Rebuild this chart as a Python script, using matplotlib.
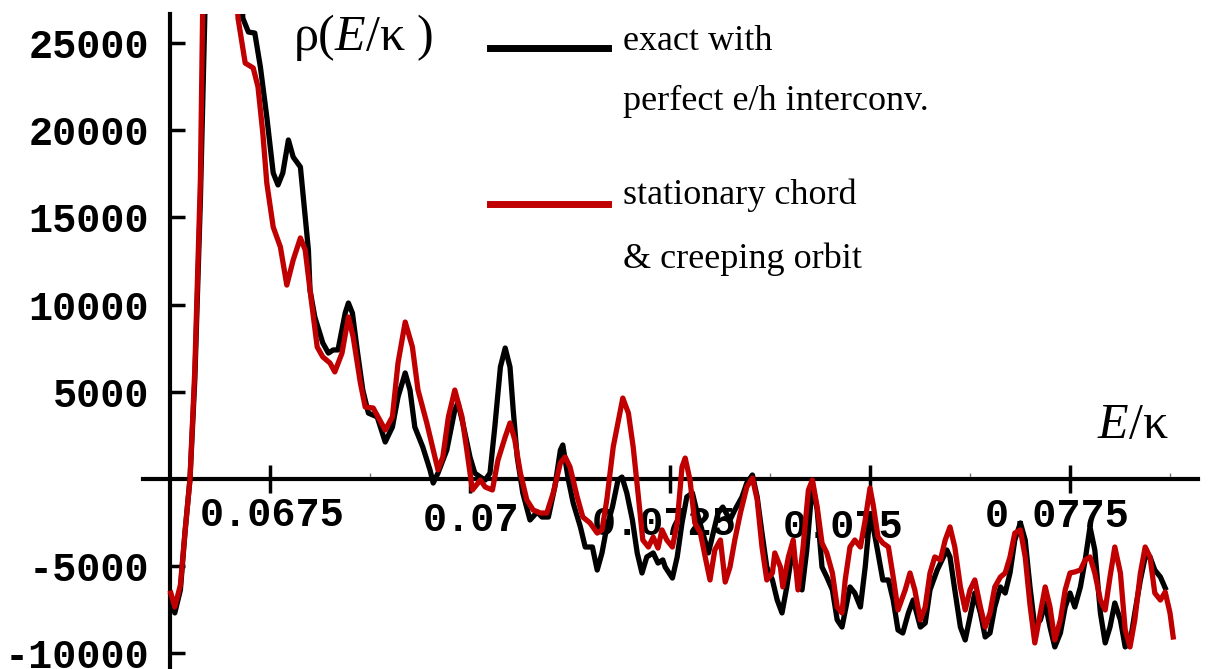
import numpy as np
import matplotlib
matplotlib.use('Agg')
import matplotlib.pyplot as plt
from matplotlib.lines import Line2D

plt.rcParams['axes.unicode_minus'] = False
plt.rcParams['mathtext.fontset'] = 'custom'
plt.rcParams['mathtext.rm'] = 'Liberation Serif'
plt.rcParams['mathtext.it'] = 'Liberation Serif:italic'

# exact result, perfect e/h interconversion
exact_E = [0.06626, 0.06631, 0.06638, 0.06644, 0.06650, 0.06656, 0.06663, 0.06669, 0.06678, 0.06694,
           0.06709, 0.06716, 0.06723, 0.06731, 0.06738, 0.06746, 0.06754, 0.06760, 0.06766, 0.06773,
           0.06779, 0.06788, 0.06794, 0.06798, 0.06800, 0.06806, 0.06816, 0.06823, 0.06829, 0.06835,
           0.06844, 0.06848, 0.06853, 0.06859, 0.06866, 0.06873, 0.06884, 0.06894, 0.06903, 0.06910,
           0.06919, 0.06925, 0.06931, 0.06941, 0.06950, 0.06954, 0.06960, 0.06971, 0.06981, 0.06985,
           0.06991, 0.07000, 0.07006, 0.07013, 0.07019, 0.07025, 0.07031, 0.07038, 0.07044, 0.07050,
           0.07054, 0.07059, 0.07066, 0.07075, 0.07084, 0.07090, 0.07098, 0.07106, 0.07113, 0.07116,
           0.07123, 0.07129, 0.07138, 0.07144, 0.07153, 0.07159, 0.07165, 0.07171, 0.07178, 0.07185,
           0.07190, 0.07196, 0.07203, 0.07209, 0.07215, 0.07221, 0.07229, 0.07235, 0.07241, 0.07244,
           0.07253, 0.07259, 0.07265, 0.07271, 0.07278, 0.07284, 0.07291, 0.07298, 0.07304, 0.07310,
           0.07316, 0.07325, 0.07331, 0.07340, 0.07346, 0.07353, 0.07359, 0.07365, 0.07371, 0.07378,
           0.07384, 0.07390, 0.07396, 0.07403, 0.07409, 0.07415, 0.07421, 0.07428, 0.07434, 0.07440,
           0.07446, 0.07453, 0.07459, 0.07465, 0.07475, 0.07481, 0.07488, 0.07494, 0.07500, 0.07504,
           0.07510, 0.07516, 0.07523, 0.07529, 0.07535, 0.07541, 0.07548, 0.07554, 0.07563, 0.07569,
           0.07575, 0.07584, 0.07590, 0.07596, 0.07600, 0.07606, 0.07613, 0.07619, 0.07625, 0.07631,
           0.07638, 0.07644, 0.07650, 0.07656, 0.07663, 0.07669, 0.07675, 0.07681, 0.07688, 0.07694,
           0.07700, 0.07706, 0.07713, 0.07719, 0.07725, 0.07731, 0.07738, 0.07744, 0.07750, 0.07756,
           0.07763, 0.07769, 0.07775, 0.07781, 0.07788, 0.07794, 0.07800, 0.07806, 0.07813, 0.07819,
           0.07825, 0.07831, 0.07838, 0.07844, 0.07850, 0.07856, 0.07863, 0.07869]
exact_rho = [-6650, -7680, -6360, -2920, 0, 5680, 16000, 27470, 41800, 45800,
             36070, 26430, 25630, 25570, 23620, 20760, 17550, 16860, 17550, 19440,
             18460, 17890, 15020, 13130, 10840, 9290, 7800, 7220, 7400, 7400,
             9520, 10090, 9520, 7400, 5100, 3780, 3560, 2120, 2980, 4700,
             6080, 5100, 2980, 1830, 520, -230, 340, 1660, 3960, 4360,
             3210, 1260, 340, 110, -60, 340, 2980, 6420, 7510, 6420,
             3960, 1260, -800, -2350, -1890, -2180, -2180, -460, 1660, 1950,
             -60, -1380, -2750, -3900, -3900, -5220, -4240, -2750, -1610, -60,
             110, -800, -2350, -4240, -5390, -4470, -4240, -4820, -4640, -5050,
             -5680, -4470, -2520, -1030, -800, -1950, -3100, -4240, -3100, -1950,
             -1610, -2350, -1780, -1030, -230, 230, -1030, -3100, -5050, -5790,
             -6940, -7680, -6190, -4070, -5390, -6360, -4070, -230, -1780, -5050,
             -5620, -6360, -8080, -8490, -6190, -6540, -7340, -5050, -2060, -2750,
             -4240, -5790, -5790, -6940, -8660, -8830, -7680, -6940, -8490, -8260,
             -6360, -5220, -4640, -4070, -4470, -6360, -8490, -9230, -7910, -6540,
             -7680, -9060, -8830, -7340, -6190, -6540, -5390, -3500, -2520, -3500,
             -6190, -8490, -8080, -7110, -8490, -9630, -8830, -7340, -6540, -7340,
             -6190, -4640, -2750, -4070, -7680, -9400, -8490, -7110, -8080, -9630,
             -9400, -7680, -5790, -4470, -4470, -5220, -5620, -6250]

# stationary chord & creeping orbit approximation
semi_E = [0.06626, 0.06631, 0.06638, 0.06644, 0.06650, 0.06656, 0.06663, 0.06666, 0.06675, 0.06694,
          0.06704, 0.06710, 0.06719, 0.06729, 0.06735, 0.06741, 0.06746, 0.06754, 0.06763, 0.06771,
          0.06779, 0.06788, 0.06794, 0.06800, 0.06809, 0.06816, 0.06825, 0.06831, 0.06840, 0.06848,
          0.06854, 0.06863, 0.06869, 0.06879, 0.06894, 0.06903, 0.06910, 0.06919, 0.06928, 0.06935,
          0.06946, 0.06954, 0.06960, 0.06966, 0.06973, 0.06981, 0.06990, 0.06996, 0.07003, 0.07006,
          0.07013, 0.07019, 0.07028, 0.07035, 0.07044, 0.07050, 0.07056, 0.07063, 0.07071, 0.07079,
          0.07088, 0.07096, 0.07104, 0.07113, 0.07119, 0.07125, 0.07134, 0.07141, 0.07150, 0.07159,
          0.07165, 0.07171, 0.07179, 0.07188, 0.07191, 0.07198, 0.07204, 0.07210, 0.07216, 0.07223,
          0.07229, 0.07235, 0.07240, 0.07246, 0.07253, 0.07259, 0.07265, 0.07269, 0.07275, 0.07281,
          0.07288, 0.07294, 0.07300, 0.07306, 0.07313, 0.07319, 0.07325, 0.07331, 0.07338, 0.07346,
          0.07353, 0.07359, 0.07365, 0.07371, 0.07378, 0.07381, 0.07388, 0.07391, 0.07398, 0.07404,
          0.07410, 0.07416, 0.07423, 0.07428, 0.07434, 0.07440, 0.07446, 0.07453, 0.07459, 0.07465,
          0.07469, 0.07475, 0.07481, 0.07488, 0.07494, 0.07500, 0.07504, 0.07510, 0.07516, 0.07523,
          0.07529, 0.07535, 0.07544, 0.07550, 0.07556, 0.07563, 0.07569, 0.07575, 0.07581, 0.07588,
          0.07594, 0.07600, 0.07606, 0.07613, 0.07619, 0.07625, 0.07631, 0.07638, 0.07644, 0.07650,
          0.07656, 0.07663, 0.07669, 0.07675, 0.07681, 0.07688, 0.07694, 0.07700, 0.07706, 0.07713,
          0.07719, 0.07725, 0.07731, 0.07738, 0.07744, 0.07750, 0.07756, 0.07763, 0.07769, 0.07775,
          0.07781, 0.07788, 0.07794, 0.07800, 0.07806, 0.07813, 0.07819, 0.07825, 0.07831, 0.07838,
          0.07844, 0.07850, 0.07856, 0.07863, 0.07869, 0.07875, 0.07879]
semi_rho = [-6540, -7340, -6080, -2920, 0, 6250, 17150, 27470, 44670, 47530,
            33200, 26430, 23850, 23570, 22480, 19840, 16970, 14450, 13300, 11120,
            12560, 13820, 13130, 10840, 7570, 7000, 6650, 6140, 7220, 9290,
            8140, 5500, 4130, 4070, 2810, 3560, 6650, 9000, 7570, 5100,
            3210, 1660, 520, 1260, 3560, 5100, 3560, 1660, -630, -460,
            -60, -460, -630, 1090, 2410, 3210, 2240, 340, -1200, -1780,
            -1950, -1950, -800, 920, 1260, 690, -1030, -2180, -2520, -3100,
            -2920, -1200, 1830, 3960, 4640, 3780, 1830, -800, -3500, -3900,
            -3330, -3960, -2920, -3500, -3900, -2520, 690, 1200, -60, -2520,
            -3100, -4470, -5790, -4070, -3500, -5910, -5050, -3500, -1950, -460,
            60, -1200, -3900, -5790, -5390, -4240, -5050, -6190, -4470, -3500,
            -6360, -4070, -630, -60, -1610, -3670, -4240, -5390, -7340, -7680,
            -5790, -3900, -3500, -3900, -2350, -520, -1490, -3330, -3670, -3900,
            -5620, -7510, -6360, -5390, -6360, -8080, -7340, -5390, -4470, -4640,
            -3500, -2750, -3900, -6190, -7510, -6360, -5790, -7340, -8490, -7680,
            -6190, -5620, -5390, -4470, -3100, -2920, -4470, -7220, -9400, -7680,
            -6190, -7340, -9230, -8080, -6360, -5390, -5330, -5220, -4640, -4470,
            -5390, -6940, -7510, -5620, -3900, -5390, -8660, -9630, -8080, -5390,
            -3900, -4470, -6540, -6940, -6480, -7680, -9060]

x_ticks = [0.0675, 0.07, 0.0725, 0.075, 0.0775]
x_tick_labels = ['0.0675', '0.07', '0.0725', '0.075', '0.0775']
x_minor = [0.06875, 0.07125, 0.07375, 0.07625, 0.07875]
y_ticks = [-10000, -5000, 5000, 10000, 15000, 20000, 25000]
y_tick_labels = ['-10000', '-5000', '5000', '10000', '15000', '20000', '25000']

W, H = 1223, 669
fig = plt.figure(figsize=(W / 100, H / 100), dpi=100)
ax = fig.add_axes([143 / W, 0, 1055 / W, 655 / H])

ax.plot(exact_E, exact_rho, color='black', lw=3.8, zorder=3, solid_joinstyle='round')
ax.plot(semi_E, semi_rho, color='#c00000', lw=3.8, zorder=4, solid_joinstyle='round')

ax.set_xlim(0.0659125, 0.0791)
ax.set_ylim(-10895, 26663)

for s in ['top', 'right']:
    ax.spines[s].set_visible(False)
ax.spines['left'].set_position(('data', 0.06625))
ax.spines['bottom'].set_position(('data', 0))
ax.spines['left'].set_linewidth(3)
ax.spines['bottom'].set_linewidth(3)

ax.set_yticks(y_ticks)
ax.set_yticklabels(y_tick_labels, fontfamily='Liberation Mono', fontweight='bold', fontsize=29)
ax.tick_params(axis='y', direction='in', length=11, width=2.5, pad=15)

ax.set_xticks(x_ticks)
ax.set_xticks(x_minor, minor=True)
ax.tick_params(axis='x', which='major', direction='inout', length=20, width=2.5, labelbottom=False)
ax.tick_params(axis='x', which='minor', direction='in', length=4, width=1, color='#777777')

# x tick labels sit a little irregularly under the axis in the original
offsets = [(1.4, -26), (0.7, -29.5), (-4.3, -32.4), (-19.4, -34.6), (-9.4, -26.6)]
for t, lab, off in zip(x_ticks, x_tick_labels, offsets):
    ax.annotate(lab, xy=(t, 0), xytext=off, textcoords='offset points',
                ha='center', va='center', fontfamily='Liberation Mono',
                fontweight='bold', fontsize=29, zorder=2)

fig.text(293 / W, 1 - 50 / H, r'$\mathrm{\rho(}E\mathrm{/\kappa\ )}$', fontsize=36, va='baseline')
fig.text(1097 / W, 1 - 438 / H, r'$E\mathrm{/\kappa}$', fontsize=36, va='baseline')

# legend
fig.add_artist(Line2D([490 / W, 608 / W], [1 - 48 / H] * 2, color='black', lw=5,
                      transform=fig.transFigure))
fig.add_artist(Line2D([490 / W, 608 / W], [1 - 204 / H] * 2, color='#c00000', lw=5,
                      transform=fig.transFigure))
legend_lines = [('exact with', 50), ('perfect e/h interconv.', 110),
                ('stationary chord', 204), ('& creeping orbit', 268)]
for txt, yb in legend_lines:
    fig.text(623 / W, 1 - yb / H, txt, fontfamily='Liberation Serif', fontsize=26, va='baseline')

fig.savefig('out.png', dpi=100)
